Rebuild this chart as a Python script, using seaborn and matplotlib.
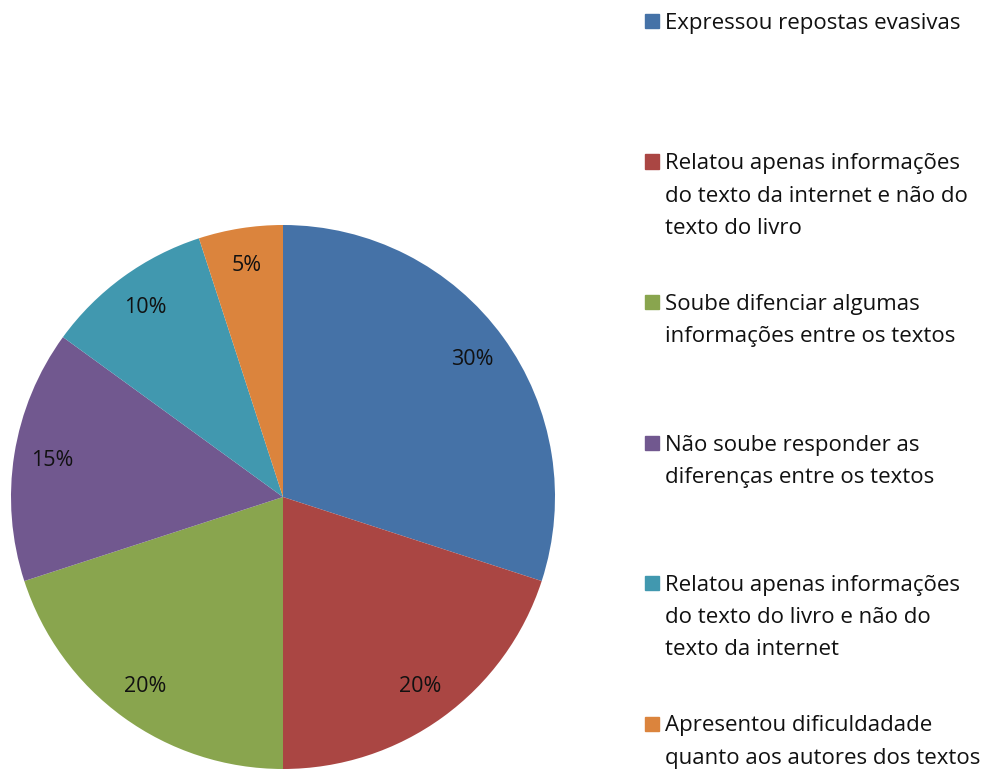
import matplotlib
matplotlib.use("Agg")
import matplotlib.pyplot as plt
import seaborn as sns

labels = [
    "Expressou repostas evasivas",
    "Relatou apenas informações\ndo texto da internet e não do\ntexto do livro",
    "Soube difenciar algumas\ninformações entre os textos",
    "Não soube responder as\ndiferenças entre os textos",
    "Relatou apenas informações\ndo texto do livro e não do\ntexto da internet",
    "Apresentou dificuldadade\nquanto aos autores dos textos",
]
values = [30, 20, 20, 15, 10, 5]
colors = ["#4572A7", "#AA4643", "#89A54E", "#71588F", "#4198AF", "#DB843D"]

sns.set_style("white")
plt.rcParams["font.family"] = ["Open Sans", "DejaVu Sans"]

W, H = 995, 769
fig = plt.figure(figsize=(W / 100, H / 100), dpi=100)

# pie: center (283, 497) px, radius 272 px
r = 272
cx, cy = 283, 497
ax = fig.add_axes([(cx - r) / W, (H - cy - r) / H, 2 * r / W, 2 * r / H])
ax.pie(values, colors=colors, startangle=90, counterclock=False,
       autopct="%d%%", pctdistance=0.86, radius=1,
       textprops={"fontsize": 15.5, "color": "#111111"},
       wedgeprops={"linewidth": 0})
ax.set_xlim(-1, 1)
ax.set_ylim(-1, 1)
ax.axis("off")

# legend, drawn by hand so every entry gets the same slot
top = 21
step = 140.5
for i, (lab, col) in enumerate(zip(labels, colors)):
    y = top + i * step
    fig.patches.append(plt.Rectangle((645 / W, 1 - (y + 7) / H), 14 / W, 14 / H,
                                     transform=fig.transFigure, color=col))
    fig.text(665 / W, 1 - (y - 8) / H, lab, ha="left", va="top",
             fontsize=16, color="#111111", linespacing=1.69)

fig.savefig("out.png", dpi=100)
